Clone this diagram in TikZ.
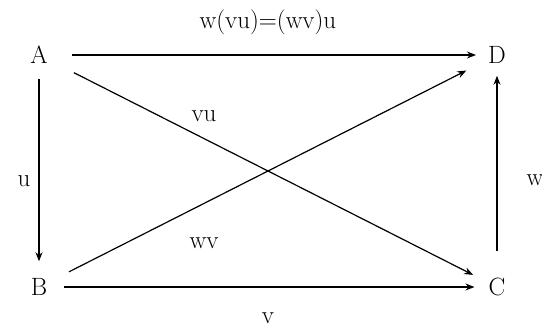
\documentclass[tikz,border=0pt]{standalone}
\usepackage{amsmath, amssymb}
\usepackage{fontspec}
\usetikzlibrary{arrows.meta}
\begin{document}
\begin{tikzpicture}[x=1pt, y=-1pt, font=\fontsize{25}{27}\selectfont, inner sep=2pt,
    map/.style={-{Stealth[length=9pt, width=7pt]}, line width=1.2pt},
    spaced/.style={font=\fontsize{25}{27}\selectfont\addfontfeature{LetterSpace=24}}]
      \useasboundingbox (0,0) rectangle (542,327);

      % Corners
      \node (A) at (39,55) {A};
      \node (D) at (497,55) {D};
      \node (B) at (39,287) {B};
      \node (C) at (497,287) {C};

      % Sides of the square
      \draw[map, shorten <=22pt, shorten >=10pt] (A) -- (D)
        node[midway, above=18pt, spaced] {w(vu)=(wv)u};
      \draw[map, shorten <=13pt, shorten >=15pt] (A) -- (B);
      \draw[map, shorten <=15pt, shorten >=12pt] (B) -- (C);
      \draw[map, shorten <=25pt, shorten >=10pt] (C) -- (D);

      % Diagonals
      \draw[map, shorten <=27pt, shorten >=15pt] (A) -- (C);
      \draw[map, shorten <=22pt, shorten >=22pt] (B) -- (D);

      % Label arrows
      \node (u) at (24,181) {u};
      \node (w) at (535,180) {w};
      \node (v) at (268,318) {v};
      \node[spaced] (vu) at (204,116) {vu};
      \node[spaced] (wv) at (204,243) {wv};
    \end{tikzpicture}
\end{document}
